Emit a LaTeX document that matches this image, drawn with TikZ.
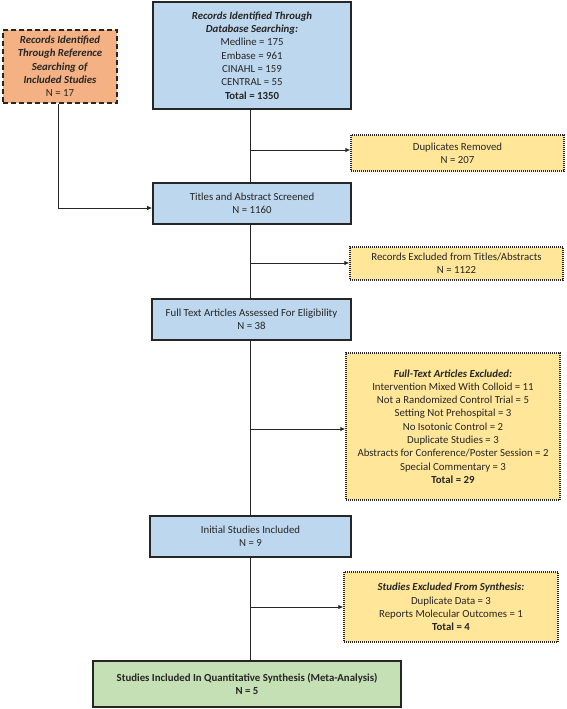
\documentclass[tikz,border=0pt]{standalone}
\usepackage{fontspec}
\setmainfont{Carlito}
\usetikzlibrary{arrows.meta}
\definecolor{bluef}{HTML}{BDD7EE}
\definecolor{orangef}{HTML}{F4B183}
\definecolor{yellowf}{HTML}{FFE699}
\definecolor{greenf}{HTML}{C5E0B4}
\definecolor{edgec}{HTML}{262626}
\begin{document}
\begin{tikzpicture}[x=1pt,y=-1pt,
  base/.style={align=center, inner sep=0pt, font=\fontsize{10.8}{13.3}\selectfont, text=black!85},
  bluebox/.style={base, draw=edgec, line width=1.6pt, fill=bluef},
  orangebox/.style={base, draw=edgec, line width=1.4pt, dash pattern=on 5pt off 3pt, fill=orangef},
  yellowbox/.style={base, draw=edgec, line width=1.3pt, dash pattern=on 1pt off 1pt, fill=yellowf},
  greenbox/.style={base, draw=edgec, line width=1.6pt, fill=greenf},
  conn/.style={draw=black!85, line width=1pt},
  arr/.style={conn, -{Latex[length=5pt,width=4.5pt]}}
]
\useasboundingbox (0,0) rectangle (567,709);

\node[bluebox, minimum width=198pt, minimum height=107pt] (db) at (252,55.5)
  {\textbf{\textit{Records Identified Through}}\\ \textbf{\textit{Database Searching:}}\\ Medline = 175\\ Embase = 961\\ CINAHL = 159\\ CENTRAL = 55\\ \textbf{Total = 1350}};

\node[orangebox, minimum width=114pt, minimum height=73pt] (ref) at (60,66.5)
  {\textbf{\textit{Records Identified}}\\ \textbf{\textit{Through Reference}}\\ \textbf{\textit{Searching of}}\\ \textbf{\textit{Included Studies}}\\ N = 17};

\node[yellowbox, minimum width=213pt, minimum height=36pt] (dup) at (457.5,153)
  {Duplicates Removed\\ N = 207};

\node[bluebox, minimum width=198pt, minimum height=41pt] (ta) at (252,203.5)
  {Titles and Abstract Screened\\ N = 1160};

\node[yellowbox, minimum width=213pt, minimum height=33pt] (rex) at (456.5,263.5)
  {Records Excluded from Titles/Abstracts\\ N = 1122};

\node[bluebox, minimum width=199pt, minimum height=41pt] (ft) at (251.5,319.5)
  {Full Text Articles Assessed For Eligibility\\ N = 38};

\node[yellowbox, minimum width=214pt, minimum height=147pt] (ftx) at (453,426.5)
  {\textbf{\textit{Full-Text Articles Excluded:}}\\ Intervention Mixed With Colloid = 11\\ Not a Randomized Control Trial = 5\\ Setting Not Prehospital = 3\\ No Isotonic Control = 2\\ Duplicate Studies = 3\\ Abstracts for Conference/Poster Session = 2\\ Special Commentary = 3\\ \textbf{Total = 29}};

\node[bluebox, minimum width=201pt, minimum height=41pt] (init) at (250.5,536.5)
  {Initial Studies Included\\ N = 9};

\node[yellowbox, minimum width=214pt, minimum height=70pt] (sx) at (451,607)
  {\textbf{\textit{Studies Excluded From Synthesis:}}\\ Duplicate Data = 3\\ Reports Molecular Outcomes = 1\\ \textbf{Total = 4}};

\node[greenbox, minimum width=308pt, minimum height=46pt] (fin) at (247,684)
  {\textbf{Studies Included In Quantitative Synthesis (Meta-Analysis)}\\ \textbf{N = 5}};

\coordinate (b1) at (250,150);
\coordinate (b2) at (250,263);
\coordinate (b3) at (250,429);
\coordinate (b4) at (250,607);
\coordinate (oc) at (58,208);

\draw[conn] (db.south -| b1) -- (ta.north -| b1);
\draw[conn] (ta.south -| b1) -- (ft.north -| b1);
\draw[conn] (ft.south -| b1) -- (init.north -| b1);
\draw[conn] (init.south -| b1) -- (fin.north -| b1);

\draw[arr] (b1) -- (b1 -| dup.west);
\draw[arr] (b2) -- (b2 -| rex.west);
\draw[arr] (b3) -- (b3 -| ftx.west);
\draw[arr] (b4) -- (b4 -| sx.west);

\draw[arr] (ref.south -| oc) -- (oc) -- (oc -| ta.west);
\end{tikzpicture}
\end{document}
